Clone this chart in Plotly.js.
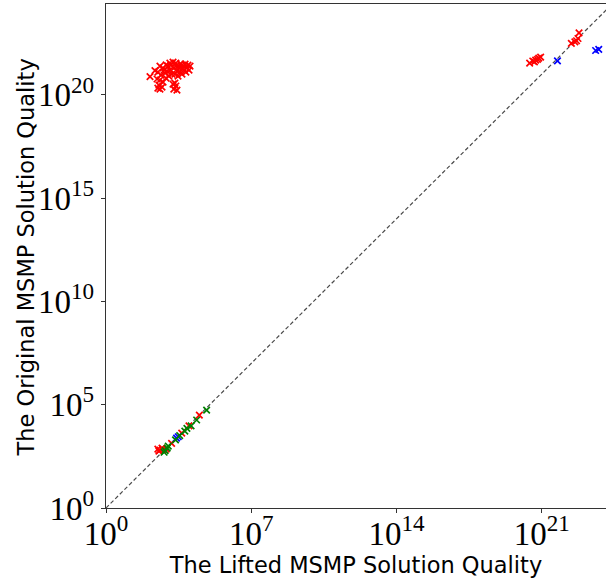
<!DOCTYPE html>
<html>
<head>
<meta charset="utf-8">
<script src="https://cdn.plot.ly/plotly-3.0.1.min.js"></script>
<style>html,body{margin:0;padding:0;background:#fff;}#chart{width:606px;height:583px;}</style>
</head>
<body>
<div id="chart"></div>
<script>
// Red series (lifted quality, original quality)
const redX = [132, 229, 398, 562, 316, 447, 692, 977, 1.2e3, 1.70e3, 776, 398, 288, 562, 355, 398, 501, 316, 1.2e3, 871,
  1.51e3, 1.07e3, 2.34e3, 3.31e3, 4.57e3, 6.46e3, 8.91e3, 1.12e4, 7.94e3, 5.75e3, 3.63e3, 2.63e3, 2.09e3, 4.57e3, 7.08e3, 1.0e4,
  2.95e3, 1.86e3, 1.35e3, 2.34e3, 1.70e3, 2.34e3, 1.86e3, 2.63e3, 2.09e3, 3.16e3, 5.01e3, 631, 794, 3.98e3,
  2.63e20, 3.72e20, 5.13e20, 7.24e20, 8.91e20, 4.47e20, 6.31e20, 2.69e22, 3.98e22, 5.62e22, 6.31e22, 4.79e22,
  316, 398, 501, 355, 562, 794, 1.45e3, 4.47e3, 1.0e4, 3.16e4];
const redY = [7.59e20, 1.48e21, 2.45e21, 2.0e21, 1.26e21, 9.12e20, 1.15e21, 2.45e21, 3.47e21, 3.89e21, 6.46e20, 5.25e20, 5.89e20, 4.17e20, 2.95e20, 1.91e20, 2.40e20, 2.14e20, 1.58e21, 1.41e21,
  1.02e21, 8.13e20, 2.45e21, 2.0e21, 2.75e21, 3.09e21, 2.75e21, 2.45e21, 2.0e21, 1.58e21, 1.26e21, 1.41e21, 1.02e21, 1.02e21, 1.26e21, 1.58e21,
  8.13e20, 2.0e21, 2.75e21, 3.47e21, 3.31e20, 2.69e20, 1.91e20, 1.70e20, 3.72e20, 2.51e21, 2.0e21, 1.58e21, 2.82e21, 3.16e21,
  3.47e21, 4.37e21, 4.79e21, 6.03e21, 6.76e21, 3.98e21, 5.25e21, 3.09e22, 3.72e22, 5.37e22, 1.0e23, 4.17e22,
  708, 631, 794, 562, 661, 708, 1.35e3, 4.17e3, 9.55e3, 3.16e4];
// Blue series
const blueX = [5.75e21, 3.98e23, 5.62e23, 3.02e3, 2.51e3];
const blueY = [4.47e21, 1.41e22, 1.58e22, 2.82e3, 2.40e3];
// Green series
const greenX = [708, 891, 631, 1.0e3, 2.24e3, 6.31e3, 7.94e3, 1.26e4, 2.34e4, 7.08e4, 3.55e3];
const greenY = [603, 794, 501, 1.0e3, 2.0e3, 5.25e3, 7.08e3, 9.55e3, 1.82e4, 5.5e4, 3.16e3];
// Reference line y = x
const diagX = [1, 1e25];
const diagY = [1, 1e25];

// Tick positions and labels
const xTickVals = [1, 1e7, 1e14, 1e21];
const xTickText = ['10<sup>0</sup>', '10<sup>7</sup>', '10<sup>14</sup>', '10<sup>21</sup>'];
const yTickVals = [1, 1e5, 1e10, 1e15, 1e20];
const yTickText = ['10<sup>0</sup>', '10<sup>5</sup>', '10<sup>10</sup>', '10<sup>15</sup>', '10<sup>20</sup>'];

const xTitle = 'The Lifted MSMP Solution Quality';
const yTitle = 'The Original MSMP Solution Quality';

function xs(x, y, color) {
  return {x: x, y: y, type: 'scatter', mode: 'markers',
    marker: {symbol: 'x-thin', size: 6.5, color: color, line: {color: color, width: 1.7}},
    hoverinfo: 'none', showlegend: false};
}
const traces = [
  {x: diagX, y: diagY, type: 'scatter', mode: 'lines',
   line: {color: '#4a4a4a', width: 1.2, dash: '4px,2.5px'}, hoverinfo: 'none', showlegend: false},
  xs(redX, redY, '#ff0000'),
  xs(blueX, blueY, '#0000ff'),
  xs(greenX, greenY, '#008000')
];
const tickFont = {family: "'Liberation Serif', 'Times New Roman', serif", size: 33, color: '#000'};
const titleFont = {family: "'DejaVu Sans', sans-serif", size: 22.5, color: '#000'};
const layout = {
  width: 606, height: 583,
  margin: {l: 106, r: 0, t: 4, b: 75, pad: 0},
  paper_bgcolor: '#fff', plot_bgcolor: '#fff',
  xaxis: {type: 'log', range: [0, 24.1], tickmode: 'array', tickvals: xTickVals, ticktext: xTickText,
    showgrid: false, zeroline: false, showline: true, mirror: true, linecolor: '#333', linewidth: 1.3,
    ticks: 'outside', ticklen: 4, tickcolor: '#333', tickfont: tickFont, ticklabelstandoff: -8,
    title: {text: xTitle, font: titleFont, standoff: 0}, automargin: false},
  yaxis: {type: 'log', range: [0, 24.4], tickmode: 'array', tickvals: yTickVals, ticktext: yTickText,
    showgrid: false, zeroline: false, showline: true, mirror: false, linecolor: '#333', linewidth: 1.3,
    ticks: 'outside', ticklen: 4, tickcolor: '#333', tickfont: tickFont, ticklabelstandoff: 0,
    automargin: false},
  annotations: [{text: yTitle, xref: 'paper', yref: 'paper', x: -0.16, y: 0.497,
    xanchor: 'center', yanchor: 'middle', textangle: -90, showarrow: false, font: titleFont}]
};
Plotly.newPlot('chart', traces, layout, {staticPlot: true, displayModeBar: false});
</script>
</body>
</html>
